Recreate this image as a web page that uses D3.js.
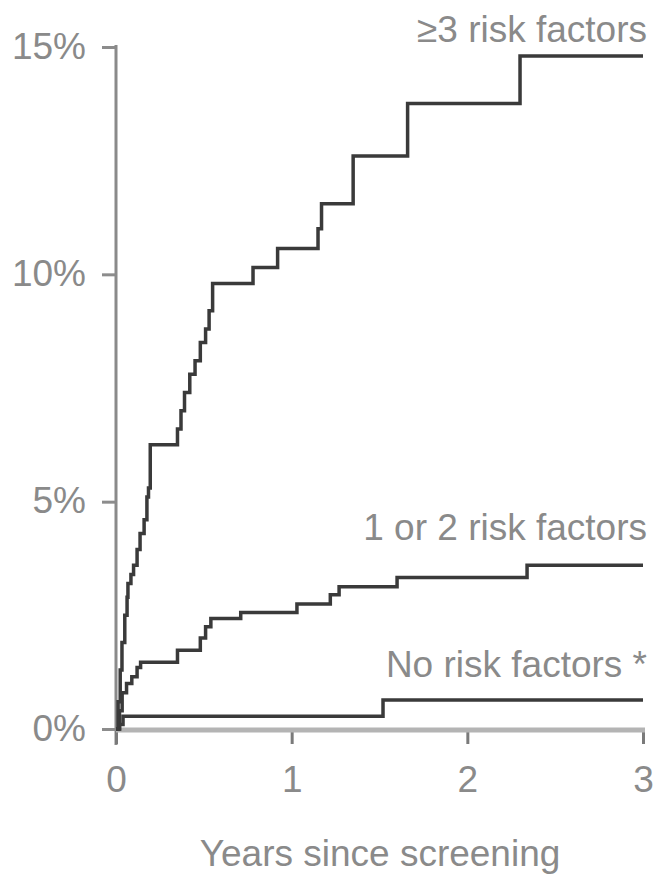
<!DOCTYPE html>
<html>
<head>
<meta charset="utf-8">
<script src="https://cdn.jsdelivr.net/npm/d3@7"></script>
<style>
  body { margin: 0; background: #fff; }
  svg { display: block; }
  text { font-family: "Liberation Sans", Arial, sans-serif; fill: #8a8a8a; }
</style>
</head>
<body>
<svg width="656" height="874"></svg>
<script>
// valeurs : [années, % cumulé]
var highRisk = [
  [0, 0], [0.012, 0.6], [0.024, 1.3], [0.034, 1.9], [0.05, 2.5], [0.063, 2.9],
  [0.068, 3.2], [0.085, 3.4], [0.1, 3.6], [0.12, 3.95], [0.137, 4.3], [0.16, 4.6],
  [0.176, 5.1], [0.185, 5.3], [0.195, 6.25], [0.35, 6.6], [0.37, 7.0], [0.39, 7.4],
  [0.42, 7.8], [0.45, 8.1], [0.48, 8.5], [0.51, 8.8], [0.53, 9.2], [0.55, 9.8],
  [0.78, 10.15], [0.92, 10.57], [1.15, 11.0], [1.17, 11.55], [1.35, 12.6],
  [1.66, 13.76], [2.3, 14.8], [3.0, 14.8]
];
var midRisk = [
  [0, 0], [0.02, 0.4], [0.035, 0.8], [0.06, 1.0], [0.09, 1.15], [0.12, 1.35],
  [0.14, 1.47], [0.35, 1.73], [0.48, 2.0], [0.51, 2.25], [0.54, 2.43], [0.71, 2.56],
  [1.03, 2.75], [1.22, 2.95], [1.27, 3.13], [1.6, 3.33], [2.34, 3.6], [3.0, 3.6]
];
var noRisk = [
  [0, 0], [0.02, 0.1], [0.04, 0.28], [1.52, 0.64], [3.0, 0.64]
];
var yearTicks = [0, 1, 2, 3];
var pctTicks = [0, 5, 10, 15];
var curveLabels = ["\u22653 risk factors", "1 or 2 risk factors", "No risk factors *"];
var xTitle = "Years since screening";

var svg = d3.select("svg");

var x = d3.scaleLinear().domain([0, 3]).range([116, 643]);
var y = d3.scaleLinear().domain([0, 15]).range([729, 47]);

// axe Y
var yAxis = svg.append("g")
    .attr("transform", "translate(116,0)")
    .call(d3.axisLeft(y).tickValues(pctTicks).tickSize(14).tickPadding(16)
        .tickFormat(function(d) { return d + "%"; }));
yAxis.select(".domain").remove();
yAxis.selectAll(".tick line").attr("stroke", "#8c8c8c").attr("stroke-width", 3);
yAxis.selectAll(".tick text")
    .attr("font-size", "37px")
    .attr("dy", "0.3em")
    .style("fill", "#8a8a8a");
svg.append("line")
    .attr("x1", 116).attr("x2", 116)
    .attr("y1", 45).attr("y2", 745)
    .attr("stroke", "#8a8a8a")
    .attr("stroke-width", 3);

// axe X
var xAxis = svg.append("g")
    .attr("transform", "translate(0," + (y(0) + 2) + ")")
    .call(d3.axisBottom(x).tickValues(yearTicks).tickSize(13).tickPadding(22)
        .tickFormat(d3.format("d")));
xAxis.select(".domain").remove();
xAxis.selectAll(".tick line").attr("stroke", "#7a7a7a").attr("stroke-width", 3);
xAxis.selectAll(".tick text")
    .attr("font-size", "37px")
    .style("fill", "#8a8a8a");
svg.append("line")
    .attr("x1", 116).attr("x2", 645)
    .attr("y1", y(0) + 1).attr("y2", y(0) + 1)
    .attr("stroke", "#b4b4b4")
    .attr("stroke-width", 5);

// courbes en escalier
var line = d3.line()
    .x(function(d) { return x(d[0]); })
    .y(function(d) { return y(d[1]); })
    .curve(d3.curveStepAfter);

[noRisk, midRisk, highRisk].forEach(function(s) {
    svg.append("path")
        .datum(s)
        .attr("fill", "none")
        .attr("stroke", "#3a3a3a")
        .attr("stroke-width", 3.5)
        .attr("d", line);
});

// étiquettes des courbes
var labelY = [42, 540, 677];
curveLabels.forEach(function(t, i) {
    svg.append("text")
        .attr("x", 647)
        .attr("y", labelY[i])
        .attr("text-anchor", "end")
        .attr("font-size", "37px")
        .text(t);
});

svg.append("text")
    .attr("x", 380)
    .attr("y", 866)
    .attr("text-anchor", "middle")
    .attr("font-size", "37px")
    .text(xTitle);
</script>
</body>
</html>
